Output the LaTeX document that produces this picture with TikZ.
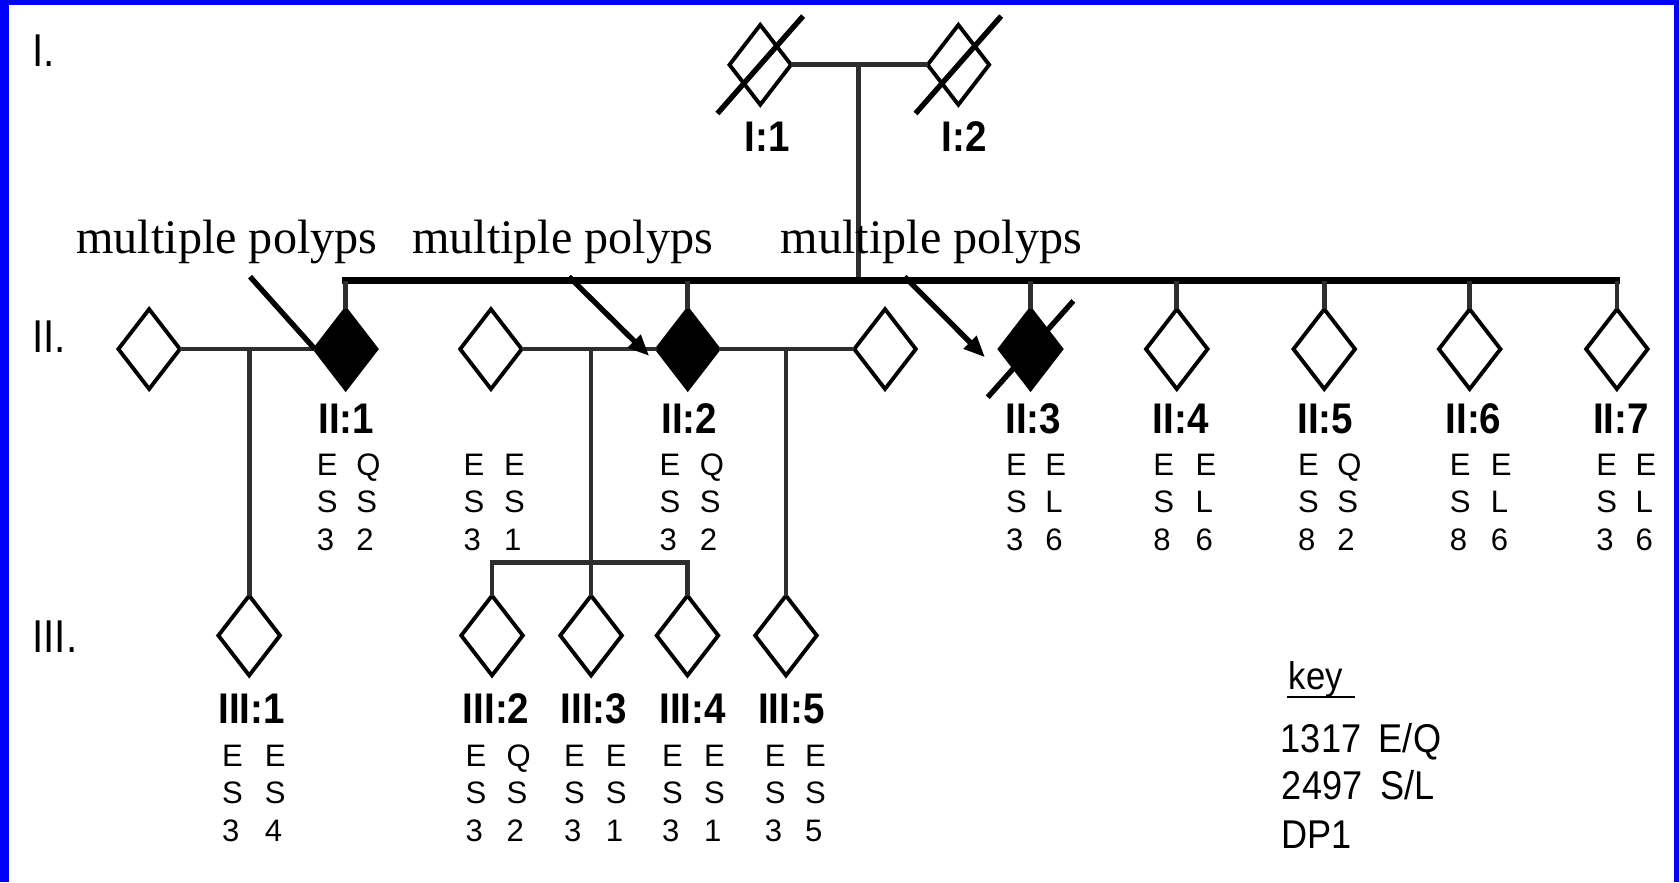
\documentclass[tikz,border=0pt]{standalone}
\usepackage{fontspec}
\usetikzlibrary{shapes.geometric,arrows.meta,calc}
\newfontfamily\serifont{Liberation Serif}
\newfontfamily\sansfont{Liberation Sans}
\newfontfamily\labelfont[FakeStretch=0.9]{Liberation Sans}
\newfontfamily\genfont[FakeStretch=0.88]{Liberation Sans}
\newfontfamily\keyfont[FakeStretch=0.9]{Liberation Sans}
\definecolor{frameblue}{RGB}{0,0,255}

\tikzset{
  person/.style={diamond, draw=black, line width=3.6pt, minimum width=57.5pt,
    minimum height=74.5pt, inner sep=0pt, outer sep=0pt, fill=white},
  affected/.style={person, fill=black},
  link/.style={line width=4.5pt, draw=black!82},
  sibline/.style={line width=6.5pt, draw=black, line cap=rect},
  deceased/.style={line width=5pt, draw=black},
  pointer/.style={line width=5pt, draw=black},
  idlabel/.style={font=\labelfont\bfseries\fontsize{40}{40}\selectfont,
    inner sep=0pt, anchor=base},
  genlabel/.style={font=\genfont\fontsize{43}{43}\selectfont,
    inner sep=0pt, anchor=base west},
  note/.style={font=\serifont\fontsize{45}{45}\selectfont,
    inner sep=0pt, anchor=base west},
  geno/.style={font=\sansfont\fontsize{29}{35.2}\selectfont,
    inner sep=0pt, anchor=base west},
  keytext/.style={font=\keyfont\fontsize{37.5}{37.5}\selectfont,
    inner sep=0pt, anchor=base west},
}

% genotype block: name, x, baseline, first column width, rows
\newcommand\gtblock[5]{%
  \node[geno] (#1) at (#2,#3)
    {\begin{tabular}[t]{@{}p{#4pt}@{}l@{}}#5\end{tabular}};}

\begin{document}
\begin{tikzpicture}[x=1pt,y=-1pt]
  \useasboundingbox (0,0) rectangle (1568,823.7);
  \fill[white] (0,0) rectangle (1568,823.7);
  % blue frame (left, top, right)
  \fill[frameblue] (0,0) rectangle (8.1,823.7);
  \fill[frameblue] (0,0) rectangle (1568,4.7);
  \fill[frameblue] (1563.3,0) rectangle (1568,823.7);

  % generation labels
  \node[genlabel] (gI)   at (30,62.5) {I.};
  \node[genlabel] (gII)  at (30,329)  {II.};
  \node[genlabel] (gIII) at (30,609)  {III.};

  % generation I
  \node[person] (I1) at (710,60.5) {};
  \node[person] (I2) at (895,60.5) {};

  % generation II
  \node[person]   (s1)  at (139.3,326) {};
  \node[affected] (II1) at (322.8,326) {};
  \node[person]   (s2)  at (458.5,326) {};
  \node[affected] (II2) at (642.3,326) {};
  \node[person]   (s3)  at (826.5,326) {};
  \node[affected] (II3) at (962.4,326) {};
  \node[person]   (II4) at (1099,326) {};
  \node[person]   (II5) at (1236.7,326) {};
  \node[person]   (II6) at (1372.5,326) {};
  \node[person]   (II7) at (1510,326) {};

  % generation III
  \node[person] (III1) at (232.7,593.5) {};
  \node[person] (III2) at (459.5,593.5) {};
  \node[person] (III3) at (552,593.5) {};
  \node[person] (III4) at (642,593.5) {};
  \node[person] (III5) at (734,593.5) {};

  % parents and sibship of generation II
  \coordinate (mI) at (802,60.5);
  \coordinate (sib) at (802,262);
  \draw[link] (I1.east) -- (I2.west);
  \draw[link] (mI) -- (sib);
  \draw[sibline] (II1.north |- sib) -- (II7.north |- sib);
  \foreach \k in {II1,II2,II3,II4,II5,II6,II7}
    \draw[link] (\k.north |- sib) -- (\k.north);

  % family of II:1
  \draw[link] (s1.east) -- (II1.west);
  \draw[link] (III1.north |- s1.east) -- (III1.north);

  % families of II:2
  \coordinate (sib2) at (552,525.5);
  \draw[link] (s2.east) -- (II2.west);
  \draw[link] (III3.north |- s2.east) -- (III3.north);
  \draw[link] (III2.north) -- (III2.north |- sib2) -- (III4.north |- sib2) -- (III4.north);
  \draw[link] (II2.east) -- (s3.west);
  \draw[link] (III5.north |- II2.east) -- (III5.north);

  % deceased marks
  \draw[deceased] ($(I1)+(-40,45.5)$) -- ($(I1)+(40,-45.5)$);
  \draw[deceased] ($(I2)+(-40,45.5)$) -- ($(I2)+(40,-45.5)$);
  \draw[deceased] ($(II3)+(-40,45)$) -- ($(II3)+(40,-45)$);

  % individual labels
  \node[idlabel] (lI1) at (716.7,141.7) {I:1};
  \node[idlabel] (lI2) at (900.5,141.7) {I:2};
  \node[idlabel] (lII1) at (323.5,405) {II:1};
  \node[idlabel] (lII2) at (643.8,405) {II:2};
  \node[idlabel] (lII3) at (965,405) {II:3};
  \node[idlabel] (lII4) at (1102.6,405) {II:4};
  \node[idlabel] (lII5) at (1237.7,405) {II:5};
  \node[idlabel] (lII6) at (1376,405) {II:6};
  \node[idlabel] (lII7) at (1513.7,405) {II:7};
  \node[idlabel] (lIII1) at (235,675.5) {III:1};
  \node[idlabel] (lIII2) at (463.3,675.5) {III:2};
  \node[idlabel] (lIII3) at (554.6,675.5) {III:3};
  \node[idlabel] (lIII4) at (646.7,675.5) {III:4};
  \node[idlabel] (lIII5) at (739,675.5) {III:5};

  % genotypes
  \gtblock{dII1}{295.7}{443.6}{37}{E&Q\\S&S\\3&2}
  \gtblock{ds2}{432.7}{443.6}{38}{E&E\\S&S\\3&1}
  \gtblock{dII2}{615.7}{443.6}{37.8}{E&Q\\S&S\\3&2}
  \gtblock{dII3}{939.3}{443.6}{36.7}{E&E\\S&L\\3&6}
  \gtblock{dII4}{1077}{443.6}{39.4}{E&E\\S&L\\8&6}
  \gtblock{dII5}{1212.1}{443.6}{36.6}{E&Q\\S&S\\8&2}
  \gtblock{dII6}{1353.7}{443.6}{38.5}{E&E\\S&L\\8&6}
  \gtblock{dII7}{1490.6}{443.6}{36.7}{E&E\\S&L\\3&6}
  \gtblock{dIII1}{207.2}{715.4}{40}{E&E\\S&S\\3&4}
  \gtblock{dIII2}{434.7}{715.4}{38.3}{E&Q\\S&S\\3&2}
  \gtblock{dIII3}{526.7}{715.4}{39}{E&E\\S&S\\3&1}
  \gtblock{dIII4}{618.1}{715.4}{39.3}{E&E\\S&S\\3&1}
  \gtblock{dIII5}{714}{715.4}{37.8}{E&E\\S&S\\3&5}

  % annotations
  \node[note] (t1) at (71,236.6) {multiple polyps};
  \node[note] (t2) at (384.6,236.6) {multiple polyps};
  \node[note] (t3) at (729,236.6) {multiple polyps};
  \coordinate (a1s) at (233.5,258.4);
  \coordinate (a2s) at (531.3,258.4);
  \coordinate (a2e) at (606.4,332.5);
  \coordinate (a3s) at (844.8,258.4);
  \coordinate (a3e) at (919.9,333.7);
  \draw[pointer] (a1s) -- (II1.west);
  \draw[pointer, -{Triangle[length=20pt,width=16pt]}] (a2s) -- (a2e);
  \draw[pointer, -{Triangle[length=20pt,width=16pt]}] (a3s) -- (a3e);

  % key
  \node[keytext, font=\keyfont\fontsize{36}{36}\selectfont] (key) at (1203.5,644) {key};
  \coordinate (ku1) at (1202,651);
  \coordinate (ku2) at (1265,651);
  \draw[line width=2.5pt] (ku1) -- (ku2);
  \node[keytext] (k1a) at (1196,703) {1317};
  \node[keytext] (k1b) at (1287.5,703) {E/Q};
  \node[keytext] (k2a) at (1197,747) {2497};
  \node[keytext] (k2b) at (1289,747) {S/L};
  \node[keytext] (k3) at (1196.3,792) {DP1};
\end{tikzpicture}
\end{document}
